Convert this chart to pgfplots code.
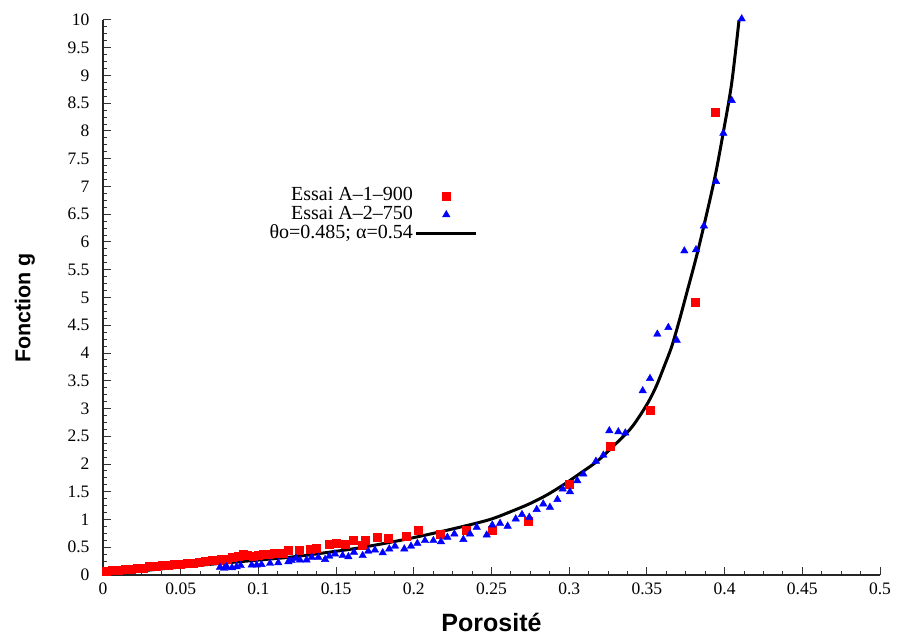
\documentclass[border=0pt]{standalone}
\usepackage{pgfplots}
\pgfplotsset{compat=1.18}
\usepackage{fontspec}
\setmainfont{Liberation Serif}
\newfontfamily\labelfont{Liberation Sans}
\pgfplotsset{
  marklegend/.style={legend image code/.code={\path (0pt,0pt) (60pt,0pt); \draw[##1] plot coordinates {(30pt,0pt)};}},
  linelegend/.style={legend image code/.code={\draw[##1] (0pt,0pt) -- (60pt,0pt);}},
}
\begin{document}
\begin{tikzpicture}
\useasboundingbox (-103pt,-60pt) rectangle (794pt,575pt);
\begin{axis}[
  at={(0pt,0pt)}, anchor=south west,
  scale only axis, width=777pt, height=555pt,
  xmin=0, xmax=0.5, ymin=0, ymax=10,
  clip=false,
  axis x line*=bottom, axis y line*=left,
  axis line style={line width=1.3pt, draw=black!85, -},
  tick style={line width=1pt, draw=black!80},
  tick align=inside,
  major tick length=8pt, minor tick length=4pt,
  xtick distance=0.05, ytick distance=0.5,
  minor x tick num=3, minor y tick num=3,
  /pgf/number format/.cd, fixed, precision=2, assume math mode=true,
  /pgfplots/.cd,
  tick label style={font=\fontsize{17.5}{17.5}\selectfont},
  x tick label style={yshift=-4pt},
  y tick label style={xshift=-10pt},
  xlabel={\labelfont\bfseries Porosité},
  ylabel={\labelfont\bfseries Fonction g},
  xlabel style={at={(axis description cs:0.5,-0.0847)}, anchor=center, font=\fontsize{25}{25}\selectfont},
  ylabel style={at={(axis description cs:-0.1004,0.481)}, anchor=center, font=\fontsize{21.5}{21.5}\selectfont},
  legend plot pos=right,
  legend cell align=right,
  legend style={at={(axis description cs:0.4826,0.7009)}, anchor=north east, draw=none, fill=none,
    inner sep=0pt, row sep=0pt, column sep=1pt,
    font=\fontsize{20}{20}\selectfont,
    nodes={inner sep=1pt, text height=13pt, text depth=4pt}},
]
\addplot[only marks, mark=square*, mark size=4pt, color=red, mark options={fill=red, draw=none}, marklegend]
coordinates {
(0.002,0.06) (0.006,0.08) (0.010,0.09) (0.014,0.10) (0.018,0.11) (0.022,0.12) (0.026,0.13)
(0.030,0.15) (0.034,0.16) (0.038,0.17) (0.042,0.18) (0.046,0.19) (0.050,0.20) (0.054,0.21)
(0.058,0.22) (0.062,0.23) (0.066,0.25) (0.070,0.26) (0.074,0.27) (0.0763,0.28) (0.080,0.29)
(0.0834,0.32) (0.087,0.33) (0.0903,0.38) (0.093,0.35) (0.0967,0.34) (0.100,0.36) (0.1032,0.38)
(0.106,0.37) (0.110,0.40) (0.113,0.39) (0.116,0.40) (0.1193,0.44) (0.126,0.44) (0.1332,0.47)
(0.137,0.49) (0.1456,0.55) (0.150,0.58) (0.156,0.56) (0.1607,0.62) (0.167,0.53) (0.1686,0.62)
(0.1767,0.69) (0.1838,0.67) (0.1948,0.70) (0.2031,0.80) (0.2173,0.74) (0.2334,0.80)
(0.2507,0.81) (0.2733,0.97) (0.300,1.64) (0.3267,2.32) (0.352,2.97) (0.381,4.92) (0.3938,8.33)
};
\addlegendentry{Essai A–1–900}
\addplot[only marks, mark=triangle*, mark size=4.3pt, color=blue, mark options={fill=blue, draw=none}, marklegend]
coordinates {
(0.0753,0.14) (0.078,0.12) (0.0796,0.15) (0.083,0.13) (0.086,0.15) (0.0886,0.17) (0.0957,0.18)
(0.0989,0.18) (0.102,0.19) (0.1075,0.21) (0.1128,0.22) (0.1193,0.24) (0.1214,0.26) (0.1242,0.30)
(0.1268,0.27) (0.131,0.27) (0.1343,0.32) (0.1386,0.32) (0.1429,0.28) (0.1456,0.34) (0.1493,0.38)
(0.1542,0.35) (0.1579,0.33) (0.1615,0.41) (0.1671,0.35) (0.1707,0.43) (0.175,0.45) (0.18,0.40)
(0.1842,0.47) (0.1879,0.52) (0.1939,0.47) (0.1982,0.52) (0.2023,0.57) (0.2072,0.62) (0.2126,0.62)
(0.2175,0.60) (0.2216,0.68) (0.2261,0.74) (0.2319,0.64) (0.2362,0.74) (0.2405,0.86) (0.2469,0.72)
(0.2505,0.90) (0.2555,0.93) (0.2604,0.88) (0.2656,1.01) (0.2696,1.09) (0.2743,1.04) (0.2791,1.18)
(0.2833,1.28) (0.2876,1.22) (0.2924,1.36) (0.2958,1.55) (0.3005,1.50) (0.3052,1.70) (0.3091,1.82)
(0.3172,2.05) (0.322,2.16) (0.3258,2.60) (0.3316,2.58) (0.3361,2.56) (0.3473,3.32) (0.352,3.54)
(0.3567,4.34) (0.3638,4.46) (0.3692,4.23) (0.3741,5.84) (0.3816,5.86) (0.3867,6.29) (0.3945,7.09)
(0.3992,7.96) (0.4046,8.55) (0.411,10.02)
};
\addlegendentry{Essai A–2–750}
\addplot[black, line width=3pt, smooth, tension=0.5, linelegend]
coordinates {
(0.003,0.02) (0.03,0.09) (0.06,0.17) (0.09,0.245) (0.12,0.32) (0.14,0.39) (0.163,0.48)
(0.185,0.59) (0.206,0.71) (0.228,0.85) (0.249,1.0) (0.264,1.16) (0.275,1.29) (0.2855,1.44)
(0.296,1.62) (0.307,1.83) (0.318,2.05) (0.328,2.31) (0.339,2.62) (0.345,2.85) (0.351,3.12)
(0.356,3.4) (0.361,3.75) (0.366,4.12) (0.371,4.6) (0.376,5.12) (0.382,5.75) (0.388,6.45)
(0.394,7.2) (0.399,7.95) (0.4045,8.85) (0.4093,10.0)
};
\addlegendentry{θo=0.485; α=0.54}
\end{axis}
\end{tikzpicture}
\end{document}
